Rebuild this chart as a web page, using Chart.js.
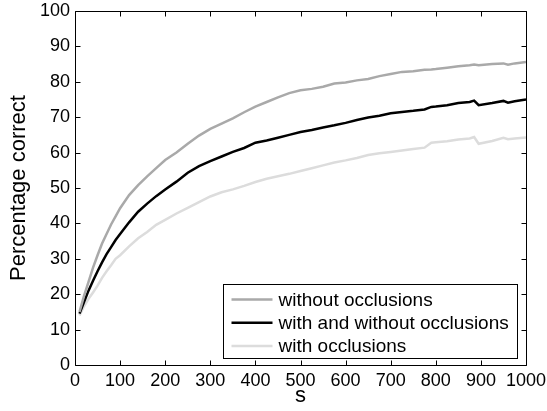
<!DOCTYPE html>
<html>
<head>
<meta charset="utf-8">
<script src="https://cdn.jsdelivr.net/npm/chart.js@4.4.1/dist/chart.umd.min.js"></script>
<style>
  html, body { margin: 0; padding: 0; background: #fff; }
  #myChart { display: block; }
</style>
</head>
<body>
<canvas id="myChart" width="547" height="411"></canvas>
<script>
// values
var sValues = [10, 20, 30, 40, 50, 60, 70, 80, 90, 100,
               120, 140, 160, 180, 200, 225, 250, 275, 300, 325,
               350, 375, 400, 425, 450, 475, 500, 525, 550, 575,
               600, 625, 650, 675, 700, 725, 750, 775, 790, 800,
               825, 850, 875, 885, 895, 925, 950, 960, 975, 1000];

var withoutOcclusions = [15, 19.5, 23.5, 27.5, 31, 34.3, 37, 39.7, 42, 44.3,
                         48, 50.8, 53.3, 55.6, 57.9, 60, 62.5, 64.8, 66.7, 68.2,
                         69.7, 71.4, 73, 74.3, 75.6, 76.8, 77.6, 78, 78.6, 79.5,
                         79.8, 80.4, 80.8, 81.6, 82.2, 82.8, 83, 83.4, 83.5, 83.6,
                         84, 84.4, 84.7, 84.9, 84.7, 85, 85.2, 84.8, 85.2, 85.6];

var withAndWithout = [14.5, 17.8, 21, 23.8, 26.5, 29, 31.3, 33.3, 35.3, 37,
                      40.3, 43.3, 45.6, 47.7, 49.6, 51.8, 54.3, 56.2, 57.6, 58.9,
                      60.2, 61.3, 62.8, 63.4, 64.2, 65, 65.8, 66.4, 67.1, 67.7,
                      68.4, 69.2, 69.9, 70.4, 71.1, 71.5, 71.8, 72.2, 72.9, 73,
                      73.4, 74, 74.3, 74.7, 73.4, 74, 74.6, 74.1, 74.5, 75];

var withOcclusions = [14, 16.6, 18.7, 20.5, 22.4, 24.6, 26.5, 28.2, 30, 31,
                      33.5, 35.8, 37.6, 39.6, 41, 42.8, 44.4, 46, 47.6, 48.8,
                      49.6, 50.6, 51.7, 52.6, 53.3, 54, 54.8, 55.6, 56.4, 57.2,
                      57.8, 58.5, 59.3, 59.8, 60.2, 60.6, 61, 61.4, 62.8, 62.9,
                      63.2, 63.7, 64, 64.4, 62.5, 63.3, 64.2, 63.8, 64, 64.3];

var xTicks = [0, 100, 200, 300, 400, 500, 600, 700, 800, 900, 1000];
var yTicks = [0, 10, 20, 30, 40, 50, 60, 70, 80, 90, 100];

var FONT = '"Liberation Sans", Arial, Helvetica, sans-serif';

function toPoints(ys) {
    return sValues.map(function (s, i) { return { x: s, y: ys[i] }; });
}

// stop label overflow from shrinking the axes box
function noPad(s) {
    s.paddingLeft = 0; s.paddingRight = 0;
    s.paddingTop = 0; s.paddingBottom = 0;
}

// box + inward ticks on all four sides, matlab style
var boxTicks = {
    id: 'boxTicks',
    afterDatasetsDraw: function (chart) {
        var ctx = chart.ctx, a = chart.chartArea;
        var xs = chart.scales.x, ys = chart.scales.y;
        var L = Math.round(a.left) + 0.5, R = Math.round(a.right) + 0.5;
        var T = Math.round(a.top) + 0.5, B = Math.round(a.bottom) + 0.5;
        ctx.save();
        ctx.strokeStyle = '#000';
        ctx.lineWidth = 1;
        ctx.beginPath();
        ctx.rect(L, T, R - L, B - T);
        xTicks.forEach(function (v) {
            var px = Math.round(xs.getPixelForValue(v)) + 0.5;
            ctx.moveTo(px, B); ctx.lineTo(px, B - 5);
            ctx.moveTo(px, T); ctx.lineTo(px, T + 5);
        });
        yTicks.forEach(function (v) {
            var py = Math.round(ys.getPixelForValue(v)) + 0.5;
            ctx.moveTo(L, py); ctx.lineTo(L + 5, py);
            ctx.moveTo(R, py); ctx.lineTo(R - 5, py);
        });
        ctx.stroke();
        ctx.restore();
    }
};

// legend box in the lower right corner of the axes
var boxLegend = {
    id: 'boxLegend',
    afterDraw: function (chart) {
        var ctx = chart.ctx, a = chart.chartArea;
        var w = 294, h = 74;
        var x0 = Math.round(a.right) - 9 - w + 0.5;
        var y0 = Math.round(a.bottom) - 7 - h + 0.5;
        ctx.save();
        ctx.fillStyle = '#fff';
        ctx.strokeStyle = '#000';
        ctx.lineWidth = 1;
        ctx.fillRect(x0, y0, w, h);
        ctx.strokeRect(x0, y0, w, h);
        ctx.font = '19px ' + FONT;
        ctx.textBaseline = 'middle';
        ctx.fillStyle = '#000';
        chart.data.datasets.forEach(function (ds, i) {
            var cy = y0 + 15 + i * 23.3;
            ctx.strokeStyle = ds.borderColor;
            ctx.lineWidth = ds.borderWidth;
            ctx.beginPath();
            ctx.moveTo(x0 + 8, cy);
            ctx.lineTo(x0 + 49, cy);
            ctx.stroke();
            ctx.fillText(ds.label, x0 + 55, cy + 1);
        });
        ctx.restore();
    }
};

const myChart = document.querySelector('#myChart').getContext('2d');

const chart = new Chart(myChart, {
    type: 'line',
    data: {
        datasets: [
            {
                label: 'without occlusions',
                data: toPoints(withoutOcclusions),
                borderColor: '#a9a9a9',
                borderWidth: 2.5,
                pointRadius: 0,
                tension: 0
            },
            {
                label: 'with and without occlusions',
                data: toPoints(withAndWithout),
                borderColor: '#000000',
                borderWidth: 2.5,
                pointRadius: 0,
                tension: 0
            },
            {
                label: 'with occlusions',
                data: toPoints(withOcclusions),
                borderColor: '#dcdcdc',
                borderWidth: 2.5,
                pointRadius: 0,
                tension: 0
            }
        ]
    },
    options: {
        responsive: false,
        animation: false,
        devicePixelRatio: 1,
        layout: { padding: { left: 0, top: 11, right: 21, bottom: 0 } },
        plugins: {
            legend: { display: false },
            tooltip: { enabled: false }
        },
        scales: {
            x: {
                type: 'linear',
                min: 0,
                max: 1000,
                afterBuildTicks: function (s) { s.ticks = xTicks.map(function (v) { return { value: v }; }); },
                afterFit: function (s) { s.height = 46; noPad(s); },
                grid: { display: false, drawTicks: false },
                border: { display: false },
                ticks: {
                    autoSkip: false,
                    maxRotation: 0,
                    padding: 5,
                    color: '#000',
                    font: { family: FONT, size: 18 },
                    callback: function (v) { return String(v); }
                },
                title: {
                    display: true,
                    text: 's',
                    color: '#000',
                    padding: { top: 0, bottom: 2 },
                    font: { family: FONT, size: 22 }
                }
            },
            y: {
                type: 'linear',
                min: 0,
                max: 100,
                afterBuildTicks: function (s) { s.ticks = yTicks.map(function (v) { return { value: v }; }); },
                afterFit: function (s) { s.width = 75; noPad(s); },
                grid: { display: false, drawTicks: false },
                border: { display: false },
                ticks: {
                    autoSkip: false,
                    padding: 5,
                    color: '#000',
                    font: { family: FONT, size: 18 },
                    callback: function (v) { return String(v); }
                },
                title: {
                    display: true,
                    text: 'Percentage correct',
                    color: '#000',
                    padding: { top: 6, bottom: 0 },
                    font: { family: FONT, size: 22 }
                }
            }
        }
    },
    plugins: [boxTicks, boxLegend]
});
</script>
</body>
</html>
